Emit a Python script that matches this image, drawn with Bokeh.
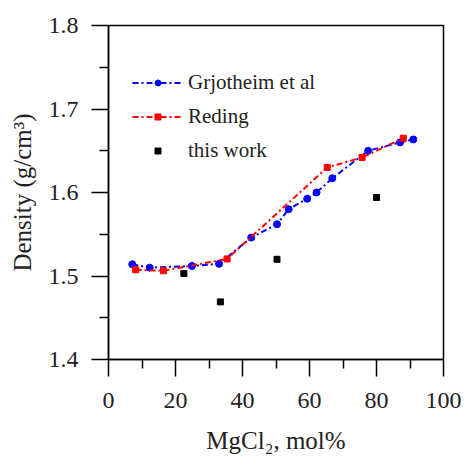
from bokeh.plotting import figure
from bokeh.models import Legend, LegendItem, Range1d, FixedTicker
from bokeh.embed import file_html
from bokeh.resources import INLINE

grj_x = [7.1, 12.3, 24.9, 33.0, 42.6, 50.3, 53.8, 59.3, 62.1, 66.8, 77.5, 87.0, 91.0]
grj_y = [1.514, 1.510, 1.512, 1.5146, 1.546, 1.562, 1.580, 1.5925, 1.600, 1.617, 1.650, 1.660, 1.6635]
red_x = [8.1, 16.4, 35.4, 65.3, 75.7, 88.0]
red_y = [1.5075, 1.5063, 1.5204, 1.630, 1.642, 1.665]
tw_x = [22.5, 33.4, 50.3, 80.0]
tw_y = [1.503, 1.469, 1.520, 1.594]

x_ticks = [0, 20, 40, 60, 80, 100]
y_ticks = [1.4, 1.5, 1.6, 1.7, 1.8]

FONT = "Liberation Serif"

p = figure(width=465, height=456, output_backend="svg", toolbar_location=None,
           x_range=Range1d(0, 100), y_range=Range1d(1.4, 1.8),
           min_border_left=108, min_border_right=22, min_border_top=25, min_border_bottom=97)
p.grid.visible = False
p.outline_line_color = "black"
p.outline_line_width = 1.5
p.background_fill_color = "white"
p.border_fill_color = "white"

p.xaxis.ticker = FixedTicker(ticks=x_ticks, minor_ticks=[10, 30, 50, 70, 90])
p.yaxis.ticker = FixedTicker(ticks=y_ticks, minor_ticks=[1.45, 1.55, 1.65, 1.75])
for ax in (p.xaxis[0], p.yaxis[0]):
    ax.axis_line_width = 1.5
    ax.major_tick_line_width = 1.5
    ax.minor_tick_line_width = 1.5
    ax.major_tick_out = 17
    ax.major_tick_in = 0
    ax.minor_tick_out = 9
    ax.minor_tick_in = 0
    ax.major_label_text_font = FONT
    ax.major_label_text_font_size = "24px"
    ax.major_label_text_color = "#222222"
    ax.axis_label_text_font = FONT
    ax.axis_label_text_font_size = "25px"
    ax.axis_label_text_font_style = "normal"
    ax.axis_label_text_color = "#222222"

p.xaxis.major_label_standoff = 16
p.yaxis.major_label_standoff = 13
p.xaxis.axis_label = "MgCl\u2082, mol%"
p.yaxis.axis_label = "Density (g/cm\u00b3)"
p.xaxis.axis_label_standoff = 16
p.yaxis.axis_label_standoff = 10

bl = p.line(grj_x, grj_y, line_color="blue", line_width=2, line_dash="6 3 2 3")
bm = p.scatter(grj_x, grj_y, marker="circle", size=7, color="blue")
rl = p.line(red_x, red_y, line_color="red", line_width=2, line_dash="6 3 2 3")
rm = p.scatter(red_x, red_y, marker="square", size=6, color="red")
km = p.scatter(tw_x, tw_y, marker="square", size=6, color="black")

legend = Legend(items=[
    LegendItem(label="Grjotheim et al", renderers=[bl, bm]),
    LegendItem(label="Reding", renderers=[rl, rm]),
    LegendItem(label="this work", renderers=[km]),
], location=(24, 192))
legend.margin = 0
legend.padding = 5
legend.spacing = 0
legend.glyph_width = 51
legend.glyph_height = 15
legend.label_height = 34
legend.label_standoff = 5
legend.label_text_font = FONT
legend.label_text_font_size = "21px"
legend.label_text_color = "#222222"
legend.border_line_color = None
legend.background_fill_alpha = 0
p.add_layout(legend)

open("out.html", "w").write(file_html(p, INLINE))
